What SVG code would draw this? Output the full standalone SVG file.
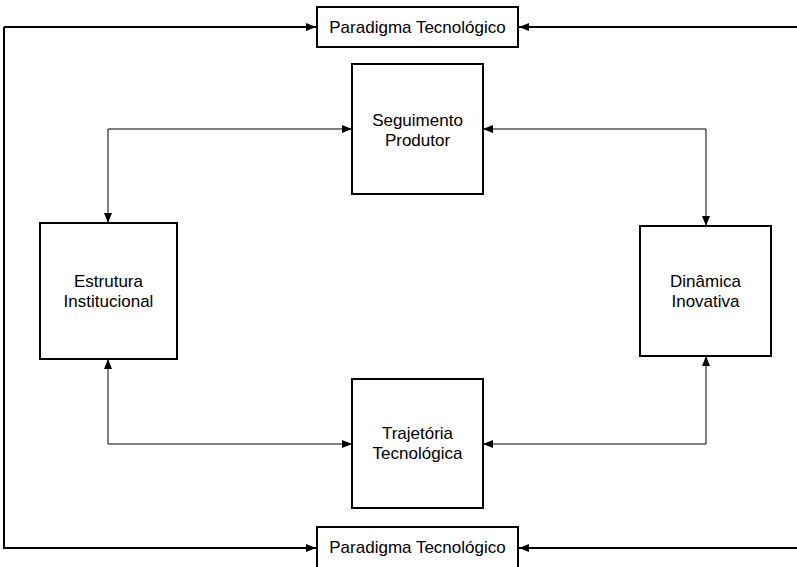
<svg xmlns="http://www.w3.org/2000/svg" width="797" height="567" viewBox="0 0 797 567">
<style>
.box{fill:#fff;stroke:#000;stroke-width:2}
.t{font-family:"Liberation Sans",Arial,sans-serif;font-size:17px;fill:#000;text-anchor:middle}
.thick{fill:none;stroke:#000;stroke-width:2}
.thin{fill:none;stroke:#000;stroke-width:1}
</style>
<defs>
<marker id="ab" viewBox="0 0 10 8" refX="10" refY="4" markerWidth="10" markerHeight="8" markerUnits="userSpaceOnUse" orient="auto"><path d="M0,0 L10,4 L0,8 Z" fill="#000"/></marker>
<marker id="as" viewBox="0 0 10 8" refX="10" refY="4" markerWidth="10" markerHeight="8" markerUnits="userSpaceOnUse" orient="auto"><path d="M0,0 L10,4 L0,8 Z" fill="#000"/></marker>
<marker id="asr" viewBox="0 0 10 8" refX="0" refY="4" markerWidth="10" markerHeight="8" markerUnits="userSpaceOnUse" orient="auto"><path d="M10,0 L0,4 L10,8 Z" fill="#000"/></marker>
</defs>
<g id="connectors">
<path class="thick" d="M797,27 L519,27" marker-end="url(#ab)"/>
<path class="thick" d="M797,548 L519,548" marker-end="url(#ab)"/>
<path class="thick" d="M4,27 L4,548 L316,548" marker-end="url(#ab)"/>
<path class="thick" d="M4,27 L316,27" marker-end="url(#ab)"/>
<path class="thin" d="M352,129 L108,129 L108,223" marker-start="url(#asr)" marker-end="url(#as)"/>
<path class="thin" d="M483,129 L706,129 L706,226" marker-start="url(#asr)" marker-end="url(#as)"/>
<path class="thin" d="M108,359 L108,444 L352,444" marker-start="url(#asr)" marker-end="url(#as)"/>
<path class="thin" d="M706,356 L706,444 L483,444" marker-start="url(#asr)" marker-end="url(#as)"/>
</g>
<g id="paradigma-top">
<rect class="box" x="317" y="7" width="201" height="40"/>
<text class="t" x="417.5" y="33">Paradigma Tecnológico</text>
</g>
<g id="seguimento">
<rect class="box" x="352" y="64" width="131" height="130"/>
<text class="t" x="417.5" y="126">Seguimento</text>
<text class="t" x="417.5" y="146">Produtor</text>
</g>
<g id="estrutura">
<rect class="box" x="40" y="223" width="137" height="136"/>
<text class="t" x="108.5" y="287">Estrutura</text>
<text class="t" x="108.5" y="307">Institucional</text>
</g>
<g id="dinamica">
<rect class="box" x="640" y="226" width="131" height="130"/>
<text class="t" x="705.5" y="287">Dinâmica</text>
<text class="t" x="705.5" y="307">Inovativa</text>
</g>
<g id="trajetoria">
<rect class="box" x="352" y="379" width="131" height="129"/>
<text class="t" x="417.5" y="439">Trajetória</text>
<text class="t" x="417.5" y="459">Tecnológica</text>
</g>
<g id="paradigma-bottom">
<rect class="box" x="317" y="527" width="201" height="44"/>
<text class="t" x="417.5" y="553">Paradigma Tecnológico</text>
</g>
</svg>
